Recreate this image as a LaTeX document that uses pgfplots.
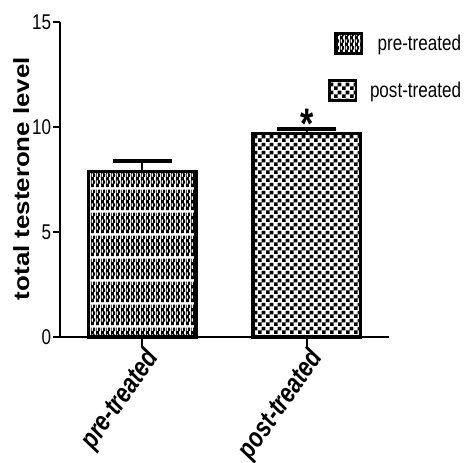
\documentclass[border=0pt]{standalone}
\usepackage{fontspec}
\setmainfont[FakeStretch=0.8]{Liberation Sans}
\newfontfamily\labelfont{Liberation Sans}
\usepackage{graphicx}
\usepackage{pgfplots}
\pgfplotsset{compat=1.18}
\usetikzlibrary{patterns}

\pgfdeclarepatternformonly{postcheck}{\pgfpointorigin}{\pgfqpoint{5.7pt}{5.7pt}}{\pgfqpoint{5.7pt}{5.7pt}}{%
  \pgfpathrectangle{\pgfpointorigin}{\pgfqpoint{2.85pt}{2.85pt}}%
  \pgfpathrectangle{\pgfqpoint{2.85pt}{2.85pt}}{\pgfqpoint{2.85pt}{2.85pt}}%
  \pgfusepath{fill}}

\pgfdeclarepatternformonly{prehatch}{\pgfpointorigin}{\pgfqpoint{3.4pt}{17pt}}{\pgfqpoint{3.4pt}{17pt}}{%
  \pgfpathrectangle{\pgfqpoint{0pt}{1.4pt}}{\pgfqpoint{2.3pt}{2.6pt}}%
  \pgfpathrectangle{\pgfqpoint{1.7pt}{4.0pt}}{\pgfqpoint{1.7pt}{2.6pt}}%
  \pgfpathrectangle{\pgfqpoint{0pt}{4.0pt}}{\pgfqpoint{0.6pt}{2.6pt}}%
  \pgfpathrectangle{\pgfqpoint{0pt}{6.6pt}}{\pgfqpoint{2.3pt}{2.6pt}}%
  \pgfpathrectangle{\pgfqpoint{1.7pt}{9.2pt}}{\pgfqpoint{1.7pt}{2.6pt}}%
  \pgfpathrectangle{\pgfqpoint{0pt}{9.2pt}}{\pgfqpoint{0.6pt}{2.6pt}}%
  \pgfpathrectangle{\pgfqpoint{0pt}{11.8pt}}{\pgfqpoint{2.3pt}{2.6pt}}%
  \pgfpathrectangle{\pgfqpoint{1.7pt}{14.4pt}}{\pgfqpoint{1.7pt}{2.6pt}}%
  \pgfpathrectangle{\pgfqpoint{0pt}{14.4pt}}{\pgfqpoint{0.6pt}{2.6pt}}%
  \pgfusepath{fill}}

\begin{document}
\begin{tikzpicture}
\useasboundingbox (-45pt,-94.5pt) rectangle (305.25pt,252.75pt);
\begin{axis}[
  scale only axis, width=246.75pt, height=236.25pt,
  xmin=-0.5, xmax=1.5, ymin=0, ymax=15,
  axis x line=bottom, axis y line=left,
  axis line style={-, line width=1.5pt},
  xtick={0,1}, xticklabels={pre-treated,post-treated},
  ytick={0,5,10,15},
  tick align=outside,
  major tick style={line width=1.5pt, black},
  major tick length=5pt,
  xtick style={/pgfplots/major tick length=7.5pt},
  /pgf/number format/assume math mode=true,
  yticklabel style={font=\fontsize{16pt}{18pt}\selectfont, inner sep=1.5pt},
  xticklabel style={font=\bfseries\itshape\fontsize{20.5pt}{22pt}\selectfont, rotate=55, anchor=north east, inner sep=1pt},
  ylabel={\scalebox{1}[0.85]{\labelfont\fontsize{19.4pt}{22pt}\selectfont\bfseries total testerone level}},
  every axis y label/.style={at={(axis description cs:-0.118,0.503)}, rotate=90, anchor=center},
  legend style={draw=none, fill=none, at={(axis description cs:1.228,0.968)}, anchor=north east,
    font=\fontsize{16pt}{18pt}\selectfont, row sep=18pt, inner sep=0pt, column sep=3pt,
    nodes={inner sep=2pt}},
  legend cell align=right,
  clip=false,
]
\addplot[ybar, bar width=0.655, bar shift=0pt, draw=black, line width=2.5pt, pattern=prehatch,
  legend image code/.code={\draw[pattern=prehatch, draw=black, line width=2pt] (4.5pt,-7.5pt) rectangle (24.5pt,7.5pt);},
  error bars/.cd, y dir=plus, y explicit,
  error bar style={line width=1.5pt, black},
  error mark options={rotate=90, line width=3pt, mark size=22pt, black}]
  coordinates {(0,7.88) +- (0,0.50)};
\addlegendentry{pre-treated}
\addplot[ybar, bar width=0.655, bar shift=0pt, draw=black, line width=2.5pt, pattern=postcheck,
  legend image code/.code={\draw[pattern=postcheck, draw=black, line width=2pt] (0pt,-7.5pt) rectangle (20pt,7.5pt);},
  nodes near coords={\fontsize{32pt}{32pt}\selectfont\bfseries *},
  every node near coord/.append style={anchor=base, yshift=-3.75pt, inner sep=0pt},
  error bars/.cd, y dir=plus, y explicit,
  error bar style={line width=1.5pt, black},
  error mark options={rotate=90, line width=3pt, mark size=22pt, black}]
  coordinates {(1,9.70) +- (0,0.22)};
\addlegendentry{post-treated}
\end{axis}
\end{tikzpicture}
\end{document}
